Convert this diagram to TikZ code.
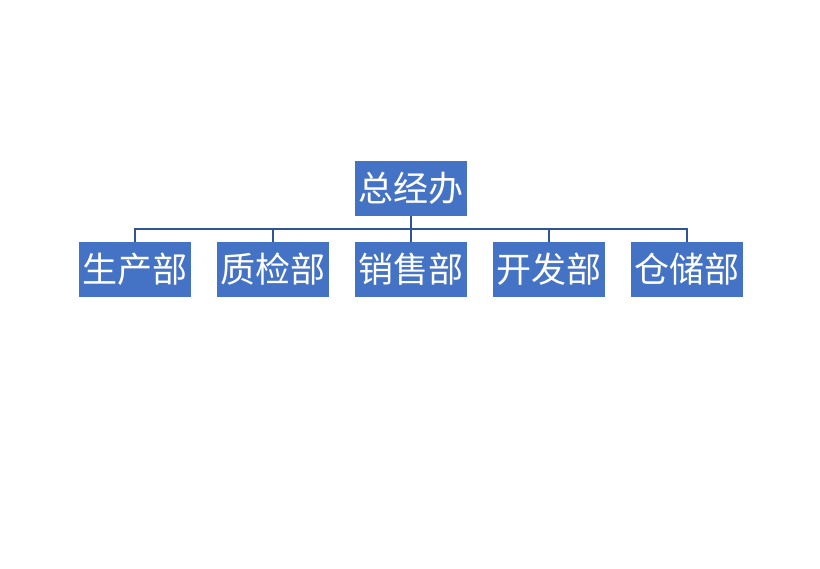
\documentclass[tikz,border=0pt]{standalone}
\usepackage{fontspec}
\newfontfamily\cjk{Noto Sans CJK SC}
\definecolor{boxblue}{HTML}{4472C4}
\definecolor{linkblue}{HTML}{2F5597}
\begin{document}
\begin{tikzpicture}[x=1pt,y=1pt,
  orgbox/.style={fill=boxblue,draw=none,minimum width=112pt,minimum height=55pt,inner sep=0pt,
    text=white,font=\cjk\fontsize{35}{35}\selectfont},
  link/.style={draw=linkblue,line width=2pt}]
\useasboundingbox (0,0) rectangle (820,569);
\fill[white] (0,0) rectangle (820,569);
\node[orgbox] (top) at (411,380.5) {总经办};
\node[orgbox] (a) at (135,299.5) {生产部};
\node[orgbox] (b) at (273,299.5) {质检部};
\node[orgbox] (c) at (411,299.5) {销售部};
\node[orgbox] (d) at (548.5,299.5) {开发部};
\node[orgbox] (e) at (687,299.5) {仓储部};
\coordinate (hub) at (411,340);
\draw[link] (top.south) -- (hub);
\draw[link] (a.north) |- (hub) -| (e.north);
\draw[link] (b.north) -- (b.north |- hub);
\draw[link] (c.north) -- (hub);
\draw[link] (d.north) -- (d.north |- hub);
\end{tikzpicture}
\end{document}
